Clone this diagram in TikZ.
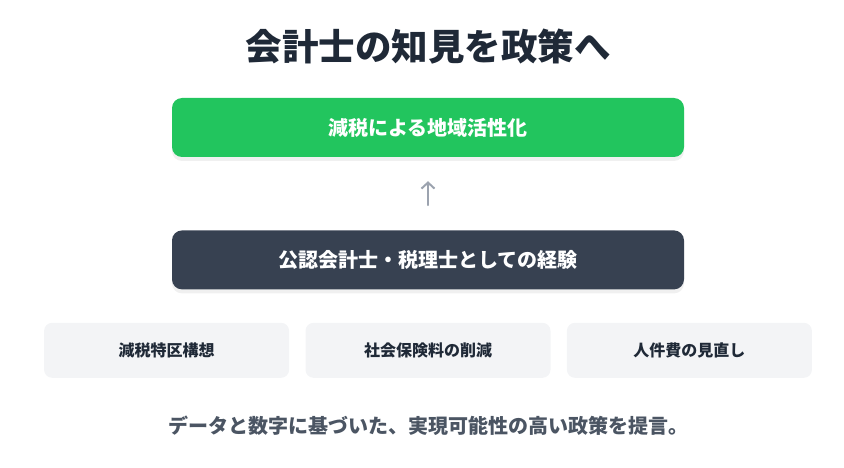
\documentclass[tikz,border=0pt]{standalone}
\usepackage{fontspec}
\setmainfont{Noto Sans CJK JP}
\usetikzlibrary{arrows.meta}
\usetikzlibrary{positioning}
\usetikzlibrary{shadows}

\definecolor{titlecol}{HTML}{1F2937}
\definecolor{goalcol}{HTML}{22C55E}
\definecolor{expcol}{HTML}{374151}
\definecolor{arrowcol}{HTML}{9CA3AF}
\definecolor{itemcol}{HTML}{F3F4F6}
\definecolor{notecol}{HTML}{4B5563}

\begin{document}
\begin{tikzpicture}[x=1pt,y=-1pt,
    bigbox/.style={rectangle,rounded corners=10pt,minimum width=512pt,minimum height=59pt,
      text=white,font=\bfseries\fontsize{20}{20}\selectfont,
      drop shadow={opacity=0.12,shadow xshift=0pt,shadow yshift=-4pt}},
    itembox/.style={rectangle,rounded corners=8pt,fill=itemcol,minimum width=245pt,minimum height=55pt,
      text=titlecol,font=\bfseries\fontsize{16}{16}\selectfont},
    uparrow/.style={draw=arrowcol,line width=2pt,-{Straight Barb[length=6pt,width=13pt]},line cap=round}]

  \useasboundingbox (0,0) rectangle (844,468);

  \node [text=titlecol,font=\bfseries\fontsize{36.5}{36.5}\selectfont] (title) at (428,47) {会計士の知見を政策へ};

  \node [bigbox,fill=goalcol] (goal) at (428,127.5) {減税による地域活性化};
  \node [bigbox,fill=expcol,below=73pt of goal] (exp) {公認会計士・税理士としての経験};

  \draw [uparrow,shorten <=25pt,shorten >=24pt] (exp.north) -- (goal.south);

  \node [itembox,below=33pt of exp] (social) {社会保険料の削減};
  \node [itembox,left=16pt of social] (zone) {減税特区構想};
  \node [itembox,right=16pt of social] (labor) {人件費の見直し};

  \node [text=notecol,font=\bfseries\fontsize{20}{20}\selectfont] (note) at (428,426) {データと数字に基づいた、実現可能性の高い政策を提言。};

\end{tikzpicture}
\end{document}
